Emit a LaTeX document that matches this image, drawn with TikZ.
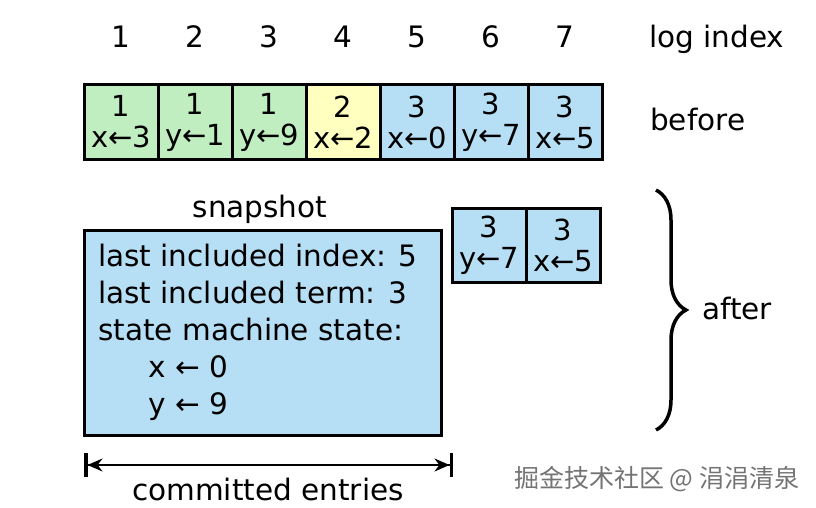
\documentclass[tikz,border=0pt]{standalone}
\usepackage{fontspec}
\setmainfont{DejaVu Sans}
\newfontfamily\cjkfont{Noto Sans CJK SC}
\usetikzlibrary{arrows.meta,decorations.pathreplacing}
\definecolor{cellgreen}{RGB}{192,238,192}
\definecolor{cellyellow}{RGB}{255,255,192}
\definecolor{cellblue}{RGB}{182,222,244}
\begin{document}
\begin{tikzpicture}[x=1pt,y=-1pt,
    cell/.style={draw,line width=3pt,minimum width=74pt,minimum height=74pt,
      inner sep=0pt,align=center,font=\fontsize{29}{31}\selectfont},
    txt/.style={inner sep=0pt,font=\fontsize{29.5}{34}\selectfont},
    endtip/.tip={Stealth[length=15pt,width=13pt]},
    endbar/.tip={Bar[width=24pt,line width=3.5pt]}]
  \useasboundingbox (0,0) rectangle (816,508);
  % log index
  \foreach \i in {1,...,7}{
    \node[txt,anchor=base] (n\i) at (47+74*\i,48) {\i};
  }
  \node[txt,anchor=base west] (idx) at (649,48) {log index};
  % before
  \foreach \i/\t/\c/\f in {1/1/x←3/cellgreen, 2/1/y←1/cellgreen, 3/1/y←9/cellgreen,
      4/2/x←2/cellyellow, 5/3/x←0/cellblue, 6/3/y←7/cellblue, 7/3/x←5/cellblue}{
    \node[cell,fill=\f] (b\i) at (47+74*\i,122) {\t\\\c};
  }
  \node[txt,anchor=base west] (before) at (650,131) {before};
  % after
  \node[cell,fill=cellblue] (a6) at (489,245) {3\\y←7};
  \node[cell,fill=cellblue] (a7) at (563,245) {3\\x←5};
  \node[draw,line width=3pt,fill=cellblue,minimum width=357pt,minimum height=205pt,
    inner sep=0pt] (snap) at (262.5,332.5) {};
  \node[txt,anchor=base] (snaplbl) at (260,217) {snapshot};
  \foreach \j/\x/\s in {1/98/last included index: 5, 2/98/last included term: 3,
      3/98/state machine state:, 4/148/x ← 0, 5/148/y ← 9}{
    \node[txt,anchor=base west] (s\j) at (\x,229+37*\j) {\s};
  }
  \coordinate (brtop) at (656,190);
  \coordinate (brbot) at (656,430);
  \draw[line width=3.5pt,decorate,decoration={brace,amplitude=30pt}] (brtop) -- (brbot);
  \node[txt,anchor=base west] (after) at (702,319) {after};
  % committed entries
  \coordinate (cl) at (84,465);
  \coordinate (cr) at (453,465);
  \draw[line width=1.5pt,{endbar[]endtip[]}-{endtip[]endbar[]}] (cl) -- (cr);
  \node[txt,anchor=base] (comm) at (268,500) {committed entries};
  \node[anchor=base west,inner sep=0pt,text=black!55,
    font=\cjkfont\fontsize{25}{25}\selectfont] (wm) at (514,487) {掘金技术社区 @ 涓涓清泉};
\end{tikzpicture}
\end{document}
